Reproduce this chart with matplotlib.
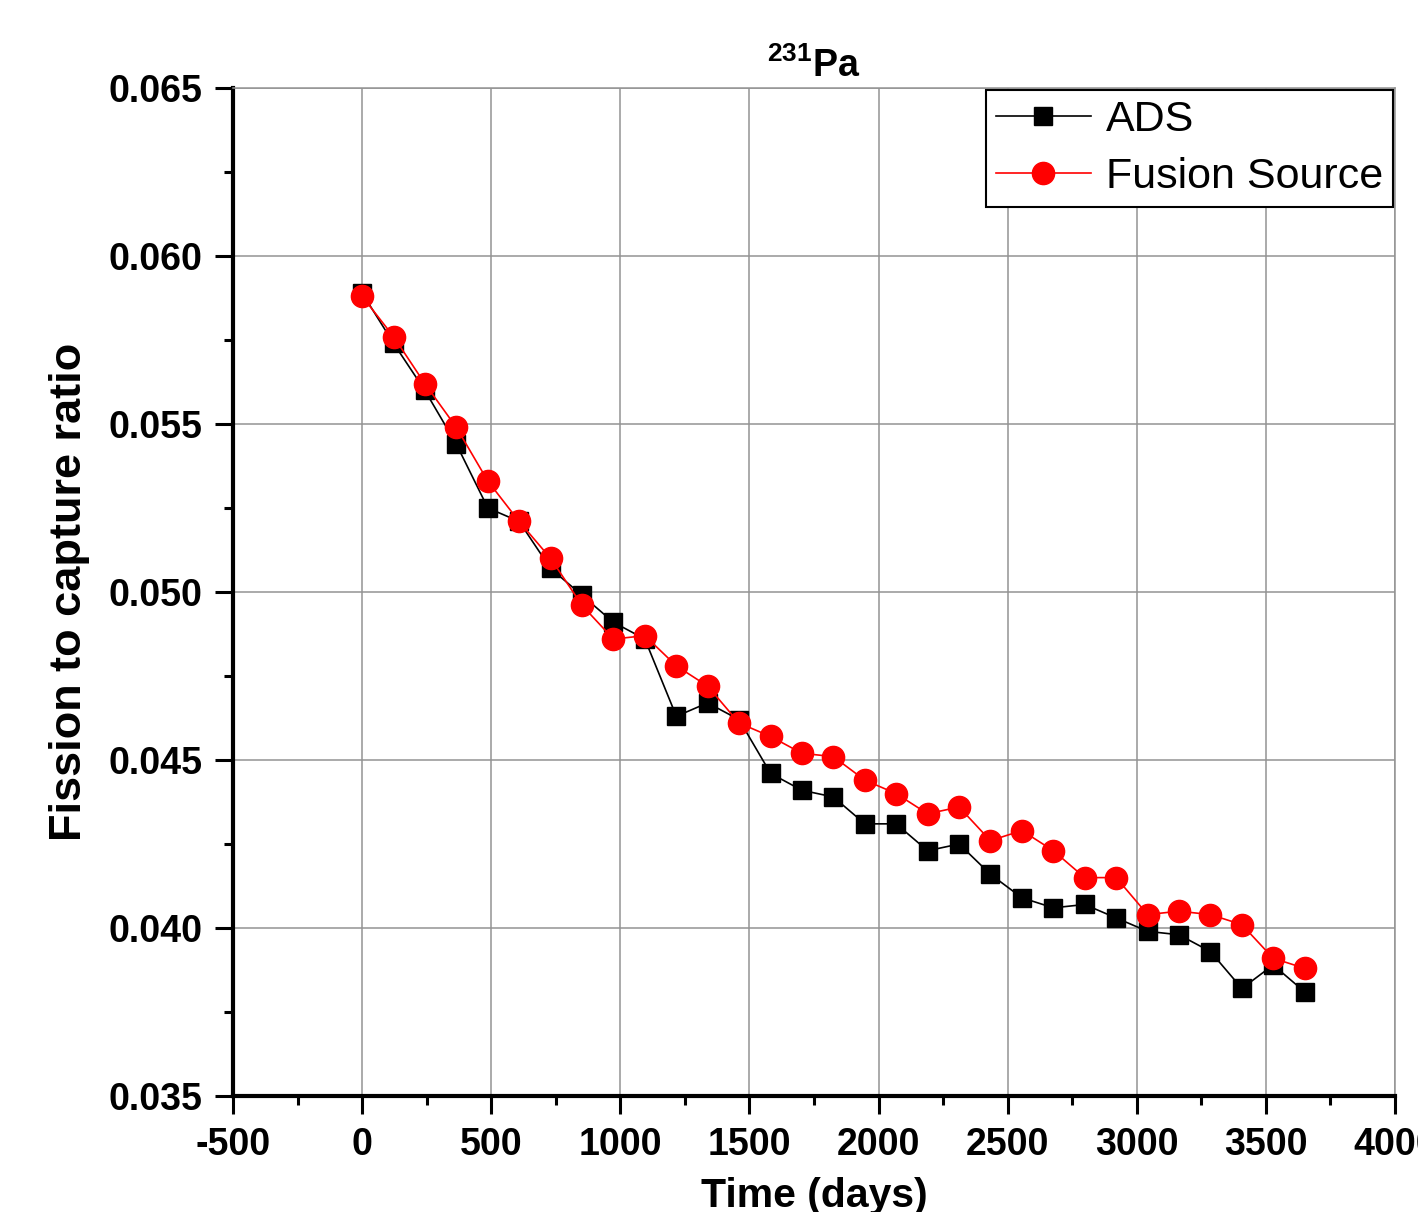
import matplotlib
matplotlib.use("Agg")
import matplotlib.pyplot as plt
from matplotlib.ticker import MultipleLocator, FormatStrFormatter

plt.rcParams["font.family"] = ["Liberation Sans", "DejaVu Sans"]
plt.rcParams["mathtext.fontset"] = "custom"
plt.rcParams["mathtext.rm"] = "Liberation Sans"
plt.rcParams["mathtext.bf"] = "Liberation Sans:bold"
plt.rcParams["axes.unicode_minus"] = False

days = [0, 122, 243, 365, 487, 608, 730, 852, 973, 1095, 1217, 1338, 1460,
        1582, 1703, 1825, 1947, 2068, 2190, 2312, 2433, 2555, 2677, 2798,
        2920, 3042, 3163, 3285, 3407, 3528, 3650]

ads = [0.0589, 0.0574, 0.0560, 0.0544, 0.0525, 0.0521, 0.0507, 0.0499,
       0.0491, 0.0486, 0.0463, 0.0467, 0.0462, 0.0446, 0.0441, 0.0439,
       0.0431, 0.0431, 0.0423, 0.0425, 0.0416, 0.0409, 0.0406, 0.0407,
       0.0403, 0.0399, 0.0398, 0.0393, 0.0382, 0.0389, 0.0381]

fusion = [0.0588, 0.0576, 0.0562, 0.0549, 0.0533, 0.0521, 0.0510, 0.0496,
          0.0486, 0.0487, 0.0478, 0.0472, 0.0461, 0.0457, 0.0452, 0.0451,
          0.0444, 0.0440, 0.0434, 0.0436, 0.0426, 0.0429, 0.0423, 0.0415,
          0.0415, 0.0404, 0.0405, 0.0404, 0.0401, 0.0391, 0.0388]

fig = plt.figure(figsize=(14.18, 12.12), dpi=100)
ax = fig.add_axes([0.1643, 0.0957, 0.8195, 0.8317])

grid_c = "#939393"
ax.grid(True, which="major", color=grid_c, linewidth=1.1)
ax.set_axisbelow(True)

ax.plot(days, ads, color="black", linewidth=1.2, marker="s",
        markersize=13.5, label="ADS", zorder=3)
ax.plot(days, fusion, color="red", linewidth=1.2, marker="o",
        markersize=16, label="Fusion Source", zorder=4)

ax.set_xlim(-500, 4000)
ax.set_ylim(0.035, 0.065)
ax.xaxis.set_major_locator(MultipleLocator(500))
ax.xaxis.set_minor_locator(MultipleLocator(250))
ax.yaxis.set_major_locator(MultipleLocator(0.005))
ax.yaxis.set_minor_locator(MultipleLocator(0.0025))
ax.yaxis.set_major_formatter(FormatStrFormatter("%.3f"))

for side in ("bottom", "left"):
    ax.spines[side].set_linewidth(3)
    ax.spines[side].set_color("black")
for side in ("top", "right"):
    ax.spines[side].set_linewidth(1.1)
    ax.spines[side].set_color(grid_c)

ax.tick_params(which="major", direction="out", length=13, width=2.2,
               labelsize=27, pad=9)
ax.tick_params(which="minor", direction="out", length=6.5, width=2.2)
ax.tick_params(top=False, right=False, which="both")
for lbl in ax.get_xticklabels() + ax.get_yticklabels():
    lbl.set_fontweight("bold")

ax.set_xlabel("Time (days)", fontsize=29.5, fontweight="bold")
ax.xaxis.set_label_coords(0.5, -0.08)
ax.set_ylabel("Fission to capture ratio", fontsize=32.5, fontweight="bold",
              va="center")
ax.yaxis.set_label_coords(-0.141, 0.5)

ax.set_title(r"$\mathbf{^{231}Pa}$", fontsize=27, pad=8)

leg = ax.legend(loc="upper right", bbox_to_anchor=(1.0, 1.0),
                borderaxespad=0.05, fontsize=31, frameon=True, fancybox=False,
                handlelength=2.2, handletextpad=0.35, labelspacing=0.39,
                borderpad=0.23)
leg.get_frame().set_edgecolor("black")
leg.get_frame().set_linewidth(1.5)
leg.get_frame().set_alpha(1)

fig.savefig("out.png", dpi=100)
